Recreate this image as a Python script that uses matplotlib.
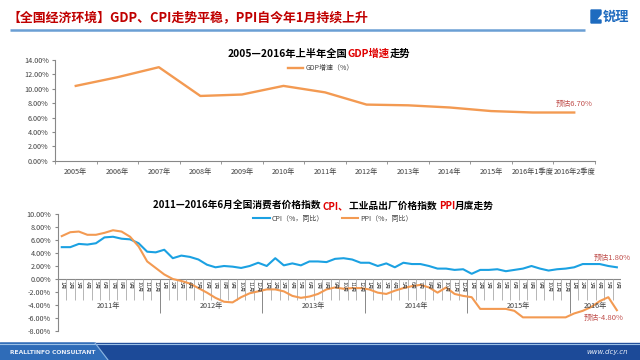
import matplotlib
matplotlib.use("Agg")
import matplotlib.pyplot as plt
from matplotlib.patches import Polygon, Rectangle
from matplotlib.ticker import FuncFormatter
import numpy as np

plt.rcParams['font.family'] = ['Noto Sans CJK SC', 'DejaVu Sans']

# ---------------- data ----------------
gdp_labels = ['2005年', '2006年', '2007年', '2008年', '2009年', '2010年', '2011年',
              '2012年', '2013年', '2014年', '2015年', '2016年1季度', '2016年2季度']
gdp_values = [10.4, 11.6, 13.0, 9.0, 9.2, 10.4, 9.5, 7.8, 7.7, 7.4, 6.9, 6.7, 6.7]

years = ['2011年', '2012年', '2013年', '2014年', '2015年', '2016年']
months_per_year = [12, 12, 12, 12, 12, 6]

cpi = [4.9, 4.9, 5.4, 5.3, 5.5, 6.4, 6.5, 6.2, 6.1, 5.5, 4.2, 4.1,
       4.5, 3.2, 3.6, 3.4, 3.0, 2.2, 1.8, 2.0, 1.9, 1.7, 2.0, 2.5,
       2.0, 3.2, 2.1, 2.4, 2.1, 2.7, 2.7, 2.6, 3.1, 3.2, 3.0, 2.5,
       2.5, 2.0, 2.4, 1.8, 2.5, 2.3, 2.3, 2.0, 1.6, 1.6, 1.4, 1.5,
       0.8, 1.4, 1.4, 1.5, 1.2, 1.4, 1.6, 2.0, 1.6, 1.3, 1.5, 1.6,
       1.8, 2.3, 2.3, 2.3, 2.0, 1.8]
ppi = [6.6, 7.2, 7.3, 6.8, 6.8, 7.1, 7.5, 7.3, 6.5, 5.0, 2.7, 1.7,
       0.7, 0.0, -0.3, -0.7, -1.4, -2.1, -2.9, -3.5, -3.6, -2.8, -2.2, -1.9,
       -1.6, -1.6, -1.9, -2.6, -2.9, -2.7, -2.3, -1.6, -1.3, -1.5, -1.4, -1.4,
       -1.6, -2.1, -2.3, -1.8, -1.4, -1.1, -0.9, -1.3, -2.1, -1.3, -2.3, -2.6,
       -2.8, -4.6, -4.6, -4.6, -4.6, -4.9, -5.9, -5.9, -5.9, -5.9, -5.9, -5.9,
       -5.3, -4.9, -4.3, -3.4, -2.8, -4.8]

gdp_note = '预估6.70%'
cpi_note = '预估1.80%'
ppi_note = '预估-4.80%'

# ---------------- figure ----------------
W, H = 640, 360
fig = plt.figure(figsize=(6.4, 3.6), dpi=100)
bg = fig.add_axes([0, 0, 1, 1])
bg.set_xlim(0, W)
bg.set_ylim(H, 0)
bg.axis('off')

RED = '#c00000'
ORANGE = '#f39a52'
BLUE = '#1ba1e2'
GREY = '#404040'
NOTE = '#c0504d'

def px_axes(x0, x1, ytop, ybot):
    return fig.add_axes([x0 / W, 1 - ybot / H, (x1 - x0) / W, (ybot - ytop) / H])

def chain(x, y, pieces, **kw):
    prev = bg.text(x, y, pieces[0][0], color=pieces[0][1], va='baseline', ha='left', **kw)
    for s, c in pieces[1:]:
        prev = bg.annotate(s, xy=(1, 0), xycoords=prev, xytext=(0, 0),
                           textcoords='offset points', color=c,
                           va='bottom', ha='left', **kw)
    return prev

# header
chain(7, 21, [('【全国经济环境】GDP、CPI走势平稳，PPI自今年1月持续上升', RED)],
      fontsize=9.3, fontweight='bold')
bg.plot([10, 585], [30, 30], color='#6a9fd4', lw=1.8, solid_capstyle='butt')
bg.add_patch(Polygon([[591, 10], [601, 10], [601, 14], [596, 20], [601, 20], [601, 23], [591, 23]],
                     closed=True, color='#1e6bbf'))
bg.text(603, 17, '锐理', color='#1e6bbf', fontsize=9.5, fontweight='bold', va='center', ha='left')

# footer
bg.add_patch(Rectangle((0, 343), W, 17, color='#1c4a98', zorder=1))
bg.add_patch(Polygon([[0, 343], [95, 343], [108, 360], [0, 360]], closed=True,
                     color='#2f6cb8', zorder=2))
bg.plot([0, W], [343.5, 343.5], color='#9cc0e6', lw=0.8, zorder=3)
bg.plot([95, 108], [343, 360], color='#8db4e0', lw=0.8, zorder=3)
bg.text(10, 352, 'REALLTINFO CONSULTANT', color='#e8eef8', fontsize=4.3,
        fontweight='bold', va='center', ha='left', family='DejaVu Sans', zorder=4)
bg.text(628, 352, 'www.dcy.cn', color='#e8eef8', fontsize=5.0, style='italic',
        va='center', ha='right', family='DejaVu Sans', zorder=4)

# ---------------- top chart ----------------
ax1 = px_axes(55, 595, 60, 160.7)
xg = np.arange(len(gdp_labels))
ax1.plot(xg, gdp_values, color=ORANGE, lw=1.7, label='GDP增速（%）')
ax1.set_xlim(-0.5, len(gdp_labels) - 0.5)
ax1.set_ylim(0, 14)
ax1.set_yticks(np.arange(0, 15, 2))
ax1.yaxis.set_major_formatter(FuncFormatter(lambda v, p: f'{v:.2f}%'))
ax1.set_xticks(xg)
ax1.set_xticklabels(gdp_labels)
ax1.set_xticks(np.arange(-0.5, len(gdp_labels), 1), minor=True)
ax1.tick_params(axis='x', which='major', length=0, labelsize=5.2, labelcolor=GREY, pad=5)
ax1.tick_params(axis='x', which='minor', length=2.5, color='#888888', direction='out')
ax1.tick_params(axis='y', labelsize=5.2, labelcolor=GREY, length=2.5, color='#888888', pad=2)
for s in ['top', 'right']:
    ax1.spines[s].set_visible(False)
for s in ['left', 'bottom']:
    ax1.spines[s].set_color('#888888')
    ax1.spines[s].set_linewidth(0.8)
ax1.patch.set_alpha(0)
ax1.text(xg[-1], gdp_values[-1] + 1.2, gdp_note, color=NOTE, fontsize=5.5, ha='center', va='center')
leg1 = ax1.legend(loc='upper left', bbox_to_anchor=((284 - 55) / 540, 1.0), frameon=False,
                  fontsize=5, handlelength=2.2, handletextpad=0.3, borderaxespad=0.2)
for t in leg1.get_texts():
    t.set_color(GREY)

chain(228, 57, [('2005—2016年上半年全国', 'black'), ('GDP增速', '#e00000'), ('走势', 'black')],
      fontsize=7.4, fontweight='bold')

# ---------------- bottom chart ----------------
n = len(cpi)
x0b, stepb = 57.5, 8.54
ax2 = px_axes(x0b, x0b + n * stepb, 214, 331)
xm = np.arange(n)
ax2.plot(xm, cpi, color=BLUE, lw=1.5, label='CPI（%，同比）')
ax2.plot(xm, ppi, color=ORANGE, lw=1.5, label='PPI（%，同比）')
ax2.set_xlim(-0.5, n - 0.5)
ax2.set_ylim(-8, 10)
ax2.set_yticks(np.arange(-8, 11, 2))
ax2.yaxis.set_major_formatter(FuncFormatter(lambda v, p: f'{v:.2f}%'))
ax2.set_xticks([])
ax2.tick_params(axis='y', labelsize=5.2, labelcolor=GREY, length=2.5, color='#888888', pad=2)
for s in ['top', 'right', 'bottom']:
    ax2.spines[s].set_visible(False)
ax2.spines['left'].set_color('#888888')
ax2.spines['left'].set_linewidth(0.8)
ax2.patch.set_alpha(0)
ax2.axhline(0, color='#888888', lw=0.8, zorder=1)

# month separators and labels
ax2.vlines(np.arange(-0.5, n, 1), -3.2, 0, color='#aaaaaa', lw=0.6, zorder=1)
start = 0
for yl, cnt in zip(years, months_per_year):
    ax2.vlines(start - 0.5, -5.2, 0, color='#888888', lw=0.7, zorder=1)
    for m in range(cnt):
        ax2.text(start + m, -0.35, f'{m + 1}月', rotation=270, fontsize=3.8, color=GREY,
                 ha='center', va='top')
    ax2.text(start + (cnt - 1) / 2, -4.1, yl, fontsize=5.2, color=GREY, ha='center', va='center')
    start += cnt
ax2.vlines(n - 0.5, -5.2, 0, color='#888888', lw=0.7, zorder=1)

ax2.text(n - 1.6, 3.3, cpi_note, color=NOTE, fontsize=5.5, ha='center', va='center')
ax2.text(n - 2.6, -5.95, ppi_note, color=NOTE, fontsize=5.5, ha='center', va='center')

leg2 = ax2.legend(loc='upper left', bbox_to_anchor=((249 - x0b) / (n * stepb), 1.03), frameon=False,
                  fontsize=5, ncol=2, handlelength=2.4, handletextpad=0.3, columnspacing=2.5,
                  borderaxespad=0.2)
for t in leg2.get_texts():
    t.set_color(GREY)

chain(153, 209, [('2011—2016年6月全国消费者价格指数 ', 'black'), ('CPI、', '#e00000'),
                 ('工业品出厂价格指数 ', 'black'), ('PPI', '#e00000'), ('月度走势', 'black')],
      fontsize=7.0, fontweight='bold')

fig.savefig('out.png', dpi=100)
